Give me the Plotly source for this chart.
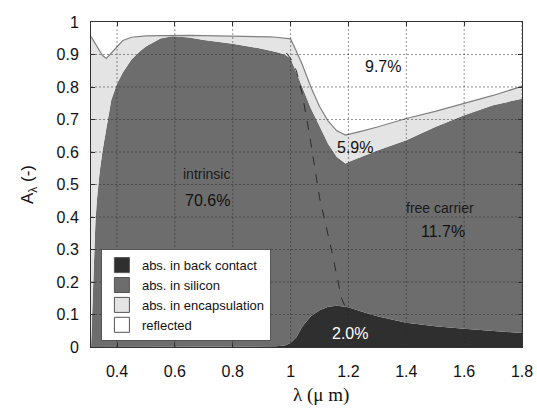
import plotly.graph_objects as go

# wavelength grid (um)
wavelength = [0.31, 0.315, 0.32, 0.325, 0.33, 0.34, 0.35, 0.363, 0.38, 0.40, 0.42, 0.45,
              0.48, 0.50, 0.55, 0.59, 0.65, 0.70, 0.80, 0.90, 0.93, 0.95, 0.98, 1.00,
              1.02, 1.04, 1.07, 1.10, 1.13, 1.16, 1.19, 1.20, 1.25, 1.30, 1.40, 1.50,
              1.60, 1.70, 1.80]

# absorbed fractions (stacked)
abs_back_contact = [0, 0, 0, 0, 0, 0, 0, 0, 0, 0, 0, 0,
                    0, 0, 0, 0, 0, 0, 0, 0, 0.001, 0.002, 0.005, 0.012,
                    0.03, 0.062, 0.095, 0.113, 0.124, 0.127, 0.124, 0.122, 0.108, 0.095, 0.075, 0.064,
                    0.056, 0.05, 0.043]
abs_silicon = [0.0, 0.15, 0.28, 0.38, 0.45, 0.54, 0.605, 0.67, 0.76, 0.81, 0.845, 0.885,
               0.911, 0.925, 0.949, 0.956, 0.952, 0.945, 0.933, 0.918, 0.912, 0.906, 0.895, 0.876,
               0.815, 0.738, 0.64, 0.567, 0.501, 0.458, 0.441, 0.447, 0.479, 0.51, 0.561, 0.613,
               0.657, 0.694, 0.721]
abs_encapsulation = [0.955, 0.798, 0.66, 0.552, 0.475, 0.37, 0.292, 0.218, 0.145, 0.113, 0.098, 0.068,
                     0.045, 0.032, 0.009, 0.003, 0.007, 0.013, 0.024, 0.037, 0.041, 0.045, 0.051, 0.06,
                     0.065, 0.07, 0.065, 0.06, 0.07, 0.08, 0.087, 0.085, 0.078, 0.072, 0.067, 0.048,
                     0.036, 0.03, 0.038]
reflected = [0.045, 0.052, 0.06, 0.068, 0.075, 0.09, 0.103, 0.112, 0.095, 0.077, 0.057, 0.047,
             0.044, 0.043, 0.042, 0.041, 0.041, 0.042, 0.043, 0.045, 0.046, 0.047, 0.049, 0.052,
             0.09, 0.13, 0.20, 0.26, 0.305, 0.335, 0.348, 0.346, 0.335, 0.323, 0.297, 0.275,
             0.251, 0.226, 0.198]

# dashed boundary between intrinsic and free-carrier absorption
boundary_x = [0.985, 1.0, 1.02, 1.04, 1.066, 1.1, 1.141, 1.176, 1.19]
boundary_y = [0.905, 0.888, 0.85, 0.78, 0.65, 0.46, 0.30, 0.15, 0.122]

series_names = ["abs. in back contact", "abs. in silicon", "abs. in encapsulation", "reflected"]
series_colors = ["#2f2f2f", "#6d6d6d", "#e4e4e4", "#ffffff"]

x_ticks = [0.4, 0.6, 0.8, 1.0, 1.2, 1.4, 1.6, 1.8]
x_ticklabels = ["0.4", "0.6", "0.8", "1", "1.2", "1.4", "1.6", "1.8"]
y_ticks = [0, 0.1, 0.2, 0.3, 0.4, 0.5, 0.6, 0.7, 0.8, 0.9, 1.0]
y_ticklabels = ["0", "0.1", "0.2", "0.3", "0.4", "0.5", "0.6", "0.7", "0.8", "0.9", "1"]

labels = [
    ("9.7%", 1.318, 0.862, 16, "#111"),
    ("5.9%", 1.221, 0.615, 16, "#111"),
    ("intrinsic", 0.71, 0.533, 14, "#1a1a1a"),
    ("70.6%", 0.712, 0.451, 16, "#111"),
    ("free carrier", 1.516, 0.427, 14, "#1a1a1a"),
    ("11.7%", 1.526, 0.354, 16, "#111"),
    ("2.0%", 1.206, 0.041, 16, "#ffffff"),
]

fig = go.Figure()
series = [abs_back_contact, abs_silicon, abs_encapsulation, reflected]
line_specs = [dict(width=0), dict(width=0), dict(width=1.2, color="#808080"), dict(width=0)]
for name, vals, col, ln in zip(series_names, series, series_colors, line_specs):
    fig.add_trace(go.Scatter(x=wavelength, y=vals, name=name, stackgroup="one",
                             mode="lines", line=ln, fillcolor=col, showlegend=False,
                             hoverinfo="skip"))

fig.add_trace(go.Scatter(x=boundary_x, y=boundary_y, mode="lines",
                         line=dict(color="#2a2a2a", width=1, dash="dash"),
                         showlegend=False, hoverinfo="skip"))

# legend entries
for name, col in zip(series_names, series_colors):
    fig.add_trace(go.Scatter(x=[None], y=[None], mode="markers", name=name,
                             marker=dict(symbol="square", size=15, color=col,
                                         line=dict(color="#555", width=1))))

# dotted grid drawn above the areas
grid_line = dict(color="rgba(40,40,40,0.5)", width=1, dash="2px,2px")
for xv in x_ticks:
    fig.add_shape(type="line", xref="x", yref="paper", x0=xv, x1=xv, y0=0, y1=1,
                  line=grid_line, layer="above")
for yv in y_ticks[1:-1]:
    fig.add_shape(type="line", xref="paper", yref="y", x0=0, x1=1, y0=yv, y1=yv,
                  line=grid_line, layer="above")

for txt, lx, ly, sz, col in labels:
    fig.add_annotation(x=lx, y=ly, text=txt, showarrow=False,
                       font=dict(family="Arial", size=sz, color=col))

# axis titles
fig.add_annotation(xref="paper", yref="paper", x=0.534, y=-0.148, yanchor="middle",
                   text="λ (μ m)", showarrow=False,
                   font=dict(family="Liberation Serif", size=19, color="#111"))
fig.add_annotation(xref="paper", yref="paper", x=-0.145, y=0.5, xanchor="center",
                   text="A<sub>λ</sub> (-)", textangle=-90, showarrow=False,
                   font=dict(family="Arial", size=17, color="#111"))

axis_common = dict(showline=True, linecolor="#333", linewidth=1, mirror="ticks",
                   ticks="inside", ticklen=4, tickcolor="#333", showgrid=False,
                   zeroline=False, tickfont=dict(family="Arial", size=16, color="#111"))
fig.update_xaxes(range=[0.31, 1.8], tickvals=x_ticks, ticktext=x_ticklabels,
                 ticklabelstandoff=10, automargin=False, **axis_common)
fig.update_yaxes(range=[0, 1], tickvals=y_ticks, ticktext=y_ticklabels,
                 ticklabelstandoff=8, automargin=False, **axis_common)

fig.update_layout(
    width=537, height=410,
    margin=dict(l=91, r=15, t=22, b=63, autoexpand=False),
    paper_bgcolor="white", plot_bgcolor="white",
    showlegend=True,
    legend=dict(x=0.023, y=0.018, xanchor="left", yanchor="bottom",
                bgcolor="white", bordercolor="#555", borderwidth=1,
                traceorder="normal", tracegroupgap=0,
                font=dict(family="Arial", size=13, color="#111"),
                itemwidth=30),
)

fig.write_html("out.html", config={"displayModeBar": False},
               post_script="document.body.style.margin='0';document.body.style.overflow='hidden';")
